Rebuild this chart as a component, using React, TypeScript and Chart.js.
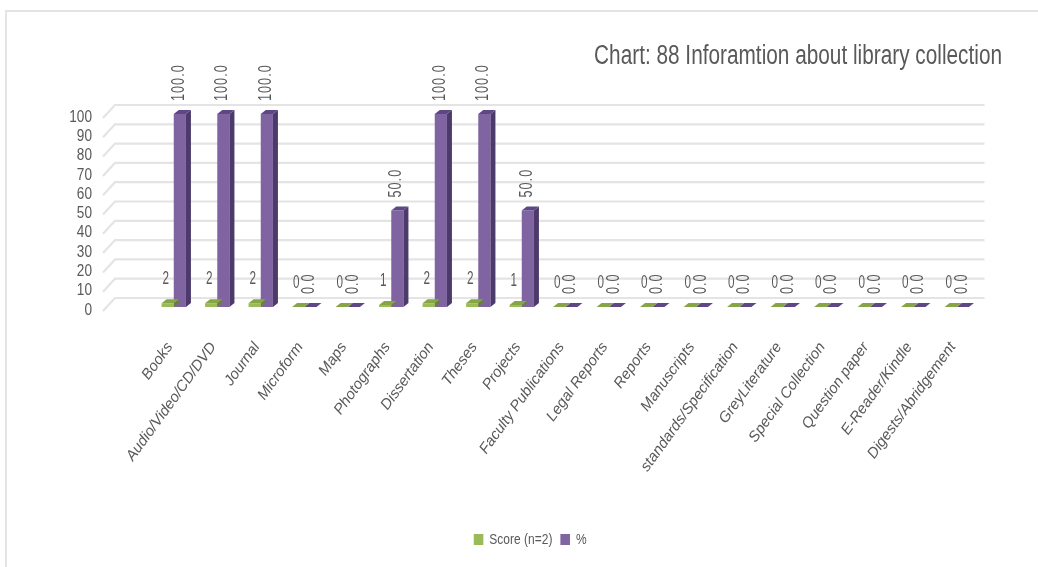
import React, { useEffect, useRef } from "react";
import { Chart, registerables } from "chart.js";

Chart.register(...registerables);

const categories = ["Books", "Audio/Video/CD/DVD", "Journal", "Microform", "Maps", "Photographs", "Dissertation", "Theses", "Projects", "Faculty Publications", "Legal Reports", "Reports", "Manuscripts", "standards/Specification", "GreyLiterature", "Special Collection", "Question paper", "E-Reader/Kindle", "Digests/Abridgement"];
const scoreValues = [2, 2, 2, 0, 0, 1, 2, 2, 1, 0, 0, 0, 0, 0, 0, 0, 0, 0, 0];
const percentValues = [100, 100, 100, 0, 0, 50, 100, 100, 50, 0, 0, 0, 0, 0, 0, 0, 0, 0, 0];
const titleText = "Chart: 88 Inforamtion about library collection";
const FONT = '"Liberation Sans", sans-serif';
const TEXT = "#595959";

const faces = [
  { side: "#67803a", top: "#86a546" },
  { side: "#4c3a6b", top: "#5d4785" },
];

// Narrow a box's text horizontally around an anchor, since no condensed font is installed.
function squeeze(obj: any, method: string, ctx: any, anchor: number, sx: number) {
  const orig = obj[method];
  obj[method] = function (...a: any[]) {
    ctx.save();
    ctx.translate(anchor, 0);
    ctx.scale(sx, 1);
    ctx.translate(-anchor, 0);
    orig.apply(this, a);
    ctx.restore();
  };
}

const bars3d = {
  id: "bars3d",
  afterLayout(chart: any) {
    const { ctx, titleBlock, legend, scales } = chart;
    titleBlock.right = 1002;
    legend.left = 41;
    legend.right = 1019.5;
    if (!chart.$squeezed) {
      chart.$squeezed = true;
      squeeze(titleBlock, "draw", ctx, 1002, 0.77);
      squeeze(legend, "draw", ctx, 530, 0.8);
      squeeze(scales.y, "drawLabels", ctx, 92, 0.8);
    }
  },
  beforeDatasetsDraw(chart: any) {
    const { ctx, chartArea, scales } = chart;
    ctx.save();
    ctx.strokeStyle = "#e4e4e4";
    ctx.lineWidth = 2.2;
    for (const t of scales.y.ticks) {
      const y = scales.y.getPixelForValue(t.value);
      ctx.beginPath();
      ctx.moveTo(chartArea.left - 49, y + 1);
      ctx.lineTo(chartArea.left - 37, y - 12);
      ctx.lineTo(chartArea.right + 6, y - 12);
      ctx.stroke();
    }
    ctx.restore();
    ctx.save();
    ctx.translate(0, -3);
  },
  afterDatasetDraw(chart: any, args: any) {
    const { ctx } = chart;
    const dx = 5;
    const dy = 4;
    const f = faces[args.index];
    for (const el of args.meta.data) {
      const l = el.x - el.width / 2;
      const r = el.x + el.width / 2;
      const { y, base } = el;
      ctx.fillStyle = f.side;
      ctx.beginPath();
      ctx.moveTo(r, y);
      ctx.lineTo(r + dx, y - dy);
      ctx.lineTo(r + dx, base - dy);
      ctx.lineTo(r, base);
      ctx.closePath();
      ctx.fill();
      ctx.fillStyle = f.top;
      ctx.beginPath();
      ctx.moveTo(l, y);
      ctx.lineTo(l + dx, y - dy);
      ctx.lineTo(r + dx, y - dy);
      ctx.lineTo(r, y);
      ctx.closePath();
      ctx.fill();
    }
  },
  afterDatasetsDraw(chart: any) {
    const { ctx, data } = chart;
    ctx.restore();
    ctx.save();
    ctx.fillStyle = TEXT;
    const scoreMeta = chart.getDatasetMeta(0);
    const pctMeta = chart.getDatasetMeta(1);
    scoreMeta.data.forEach((el: any, i: number) => {
      ctx.save();
      ctx.translate(chart.scales.x.getPixelForValue(i) - 8, el.y - 27);
      ctx.scale(0.65, 1);
      ctx.font = `18px ${FONT}`;
      ctx.textAlign = "center";
      ctx.textBaseline = "middle";
      ctx.fillText(String(data.datasets[0].data[i]), 0, 0);
      ctx.restore();
    });
    pctMeta.data.forEach((el: any, i: number) => {
      ctx.save();
      ctx.translate(chart.scales.x.getPixelForValue(i) + 5, el.y - 16);
      ctx.rotate(-Math.PI / 2);
      ctx.scale(0.7, 1);
      ctx.font = `18px ${FONT}`;
      (ctx as any).letterSpacing = "1.5px";
      ctx.textAlign = "left";
      ctx.textBaseline = "middle";
      ctx.fillText(Number(data.datasets[1].data[i]).toFixed(1), 0, 0);
      ctx.restore();
    });
    ctx.restore();
  },
};

export default function App() {
  const ref = useRef<HTMLCanvasElement>(null);
  useEffect(() => {
    const chart = new Chart(ref.current!, {
      type: "bar",
      data: {
        labels: categories,
        datasets: [
          { label: "Score (n=2)", data: scoreValues, backgroundColor: "#9BBB59" },
          { label: "%", data: percentValues, backgroundColor: "#8064A2" },
        ],
      },
      plugins: [bars3d],
      options: {
        animation: false,
        responsive: false,
        layout: { padding: { left: 0, right: 59.5, top: 0, bottom: 10 } },
        datasets: { bar: { categoryPercentage: 0.56, barPercentage: 1 } },
        plugins: {
          title: {
            display: true,
            text: titleText,
            align: "end",
            color: TEXT,
            font: { family: FONT, size: 27, weight: "normal" },
            padding: { top: 40, bottom: 44.6 },
          },
          legend: {
            position: "bottom",
            labels: {
              color: TEXT,
              font: { family: FONT, size: 15 },
              boxWidth: 12,
              boxHeight: 11,
              padding: 10,
            },
          },
          tooltip: { enabled: false },
        },
        scales: {
          x: {
            grid: { display: false },
            border: { display: false },
            ticks: {
              autoSkip: false,
              minRotation: 54,
              maxRotation: 54,
              padding: 21,
              labelOffset: -4,
              color: TEXT,
              font: { family: FONT, size: 15, style: "italic" },
            },
            afterFit(s: any) {
              s.height = 212;
            },
          },
          y: {
            min: 0,
            max: 100,
            grid: { display: false, drawTicks: false },
            border: { display: false },
            ticks: {
              stepSize: 10,
              autoSkip: false,
              padding: 60,
              color: TEXT,
              font: { family: FONT, size: 17 },
            },
            afterFit(s: any) {
              s.width = 152;
            },
          },
        },
      },
    } as any);
    return () => chart.destroy();
  }, []);
  return (
    <div style={{ position: "absolute", left: 0, top: 0, width: 1038, height: 567, background: "#fff", overflow: "hidden" }}>
      <div style={{ position: "absolute", left: 5, top: 10, width: 1040, height: 557, borderTop: "2px solid #e4e4e4", borderLeft: "2px solid #e4e4e4" }} />
      <canvas ref={ref} width={1038} height={567} style={{ position: "absolute", left: 0, top: 0 }} />
    </div>
  );
}
